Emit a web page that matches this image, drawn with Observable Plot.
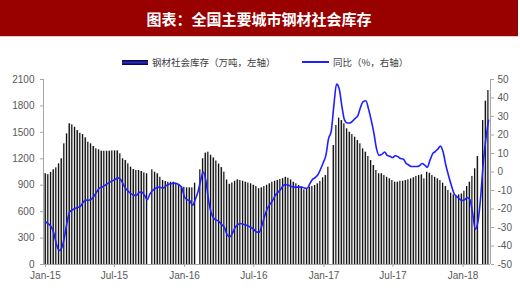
<!DOCTYPE html>
<html><head><meta charset="utf-8">
<script src="https://cdn.jsdelivr.net/npm/d3@7"></script>
<script src="https://cdn.jsdelivr.net/npm/@observablehq/plot@0.6"></script>
<style>
html,body{margin:0;padding:0;background:#fff}
body{width:520px;height:300px;overflow:hidden;position:relative}
#title{position:absolute;left:0;top:0;width:518px;height:36px;background:#990000;color:#fff;
  font:bold 15px "Noto Sans CJK SC",sans-serif;display:flex;align-items:center;justify-content:center;
  border-bottom:1px solid #f0c4c4}
.lg{position:absolute;z-index:2;font:9.5px "Noto Sans CJK SC",sans-serif;color:#404040;line-height:12px;white-space:nowrap}
#sw1{position:absolute;z-index:2;left:122px;top:60px;width:26px;height:5px;background:linear-gradient(to bottom,#00004a,#2a2ab8 50%,#00004a)}
#sw2{position:absolute;z-index:2;left:302px;top:61px;width:27px;height:2px;background:#1f1fff}
#chart{position:absolute;z-index:1;left:0;top:37px}
</style></head>
<body>
<div id="title">图表：全国主要城市钢材社会库存</div>
<div id="sw1"></div><div class="lg" style="left:152px;top:56px">钢材社会库存（万吨，左轴）</div>
<div id="sw2"></div><div class="lg" style="left:333px;top:56px">同比（%，右轴）</div>
<div id="chart"></div>
<script>
// weekly steel social inventory (10k tonnes), first week 2015-01-02; null = holiday week without data
const stock2015 = [1030,1020,1045,1075,1097,1143,1200,1370,1483,1597,1585,1558,1520,1490,1475,1438,1388,1370,1340,1313,1302,1286,1286,1286,1286,1290,1290,1290,1256,1200,
  1180,1143,1105,1078,1067,1067,1056,1040,1030,null,1075,1048,1030,990,953,942,934,934,934,923,908,885];
const stock2016 = [877,870,870,870,923,null,1075,1200,1264,1275,1240,1210,1175,1140,1100,1048,960,910,
  925,945,961,953,945,934,925,916,900,885,860,870,885,900,916,934,945,955,965,975,990,980,960,
  934,916,897,877,847,854,877,885,897,916,942,984];
const stock2017 = [1010,1105,null,1351,1578,1661,1634,1597,1540,1502,1475,1445,1407,1370,1313,1275,1226,1180,1124,1067,
  1030,1030,1010,990,972,953,934,934,945,945,953,961,972,984,1000,1010,1018,972,1048,1036,1010,990,972,953,923,885,840,810,790,780,790,800];
const stock2018 = [832,885,934,1000,1086,1226,null,1634,1854,1975];

// year-on-year change (%), same weeks
const yoy2015 = [-27,-28,-29.5,-33,-39,-42.4,-41,-35,-27,-21.5,-20.5,-19.8,-19.2,-18.5,-16.3,-15.2,-15.3,-14.8,-13.2,-11,
  -8.8,-8.2,-7.4,-6.4,-5.5,-4.8,-4,-3.2,-4,-6.5,-9,-10.5,-11.8,-12.5,-12.7,-11,-10.9,-12.5,-15,-12,
  -10,-9,-8.2,-8.4,-8.7,-7.5,-6.7,-6.3,-6,-6.2,-7,-8.5];
const yoy2016 = [-13.5,-15,-15.5,-18,-15,-11,-5,0,-4.5,-15,-22,-25,-26,-26.8,-28.5,-30,-34,-35,-33,-30,
  -28.5,-27.8,-28.2,-28.7,-29.3,-30,-31,-32.5,-32.5,-29,-24,-20,-17.5,-15.5,-12.8,-11,-9.5,-7.3,-6.8,-7.2,
  -7.8,-8.1,-8.2,-8.2,-8.2,-8.7,-8.8,-6.3,-4,-3,-1.5,1.5,5];
const yoy2017 = [9,18,22,36,47.5,45,35.5,28,26.5,26.5,27.5,29,30.5,35,38,38.5,34,28,21,12.5,
  9,9.5,10.8,9,8.5,7.8,8.8,8.3,7.3,7,4.8,3.8,3,3,3,3.3,4.6,3.8,2.5,6.2,
  9.8,11,12.5,14,10.5,3.5,-2,-7,-11.5,-13.2,-14.5,-15.4];
const yoy2018 = [-15,-13.8,-15,-22,-31,-27,-14,5,18,28];

const firstWeek = "2015-01-02";
const xDomain = ["2014-12-27", "2018-03-14"];
const xTicks = ["2015-01-01","2015-07-01","2016-01-01","2016-07-01","2017-01-01","2017-07-01","2018-01-01"];
const leftTicks = [0,300,600,900,1200,1500,1800,2100];
const rightTicks = [-50,-40,-30,-20,-10,0,10,20,30,40,50];

const stock = [...stock2015, ...stock2016, ...stock2017, ...stock2018];
const yoy = [...yoy2015, ...yoy2016, ...yoy2017, ...yoy2018];
const start = new Date(firstWeek);
const rows = stock.map((v, i) => ({date: d3.utcDay.offset(start, 7 * i), stock: v, yoy: yoy[i]}));
const y2 = d3.scaleLinear([rightTicks[0], rightTicks[rightTicks.length - 1]], [leftTicks[0], leftTicks[leftTicks.length - 1]]);
const xd = xDomain.map(d => new Date(d));

const chart = Plot.plot({
  width: 520, height: 263,
  marginTop: 42, marginBottom: 36, marginLeft: 43, marginRight: 30,
  style: {fontFamily: "'Liberation Sans', Arial, sans-serif", fontSize: "10px", background: "transparent"},
  x: {type: "utc", domain: xd, label: null},
  y: {domain: [leftTicks[0], leftTicks[leftTicks.length - 1]], label: null},
  marks: [
    Plot.rectY(rows.filter(d => d.stock != null), {
      x1: d => d3.utcDay.offset(d.date, -2), x2: d => d3.utcDay.offset(d.date, 3),
      y: "stock", fill: "url(#barGrad)"
    }),
    Plot.line(rows, {x: "date", y: d => y2(d.yoy), stroke: "#1f1fff", strokeWidth: 1.6, curve: "monotone-x"}),
    Plot.ruleY([leftTicks[0]], {stroke: "#a6a6a6"}),
    Plot.ruleX([xd[0]], {stroke: "#a6a6a6"}),
    Plot.ruleX([xd[1]], {stroke: "#a6a6a6"}),
    Plot.axisY(leftTicks, {anchor: "left", tickFormat: d => String(d), tickSize: 3, tickPadding: 6, stroke: "#a6a6a6", fill: "#595959", label: null}),
    Plot.axisY(rightTicks, {anchor: "right", y: y2, tickFormat: d => String(d), tickSize: 3, tickPadding: 4, stroke: "#a6a6a6", fill: "#595959", label: null}),
    Plot.axisX(xTicks.map(d => new Date(d)), {tickFormat: d3.utcFormat("%b-%y"), tickSize: 3, tickPadding: 4, stroke: "#a6a6a6", fill: "#595959", label: null})
  ]
});

const defs = d3.select(chart).insert("defs", ":first-child");
const grad = defs.append("linearGradient").attr("id", "barGrad")
  .attr("x1", "0").attr("x2", "1").attr("y1", "0").attr("y2", "0");
[["0", "#000000"], ["0.5", "#1c1c1c"], ["0.62", "#8c8c8c"], ["1", "#cfcfcf"]]
  .forEach(([o, c]) => grad.append("stop").attr("offset", o).attr("stop-color", c));

document.getElementById("chart").appendChild(chart);
</script>
</body></html>
